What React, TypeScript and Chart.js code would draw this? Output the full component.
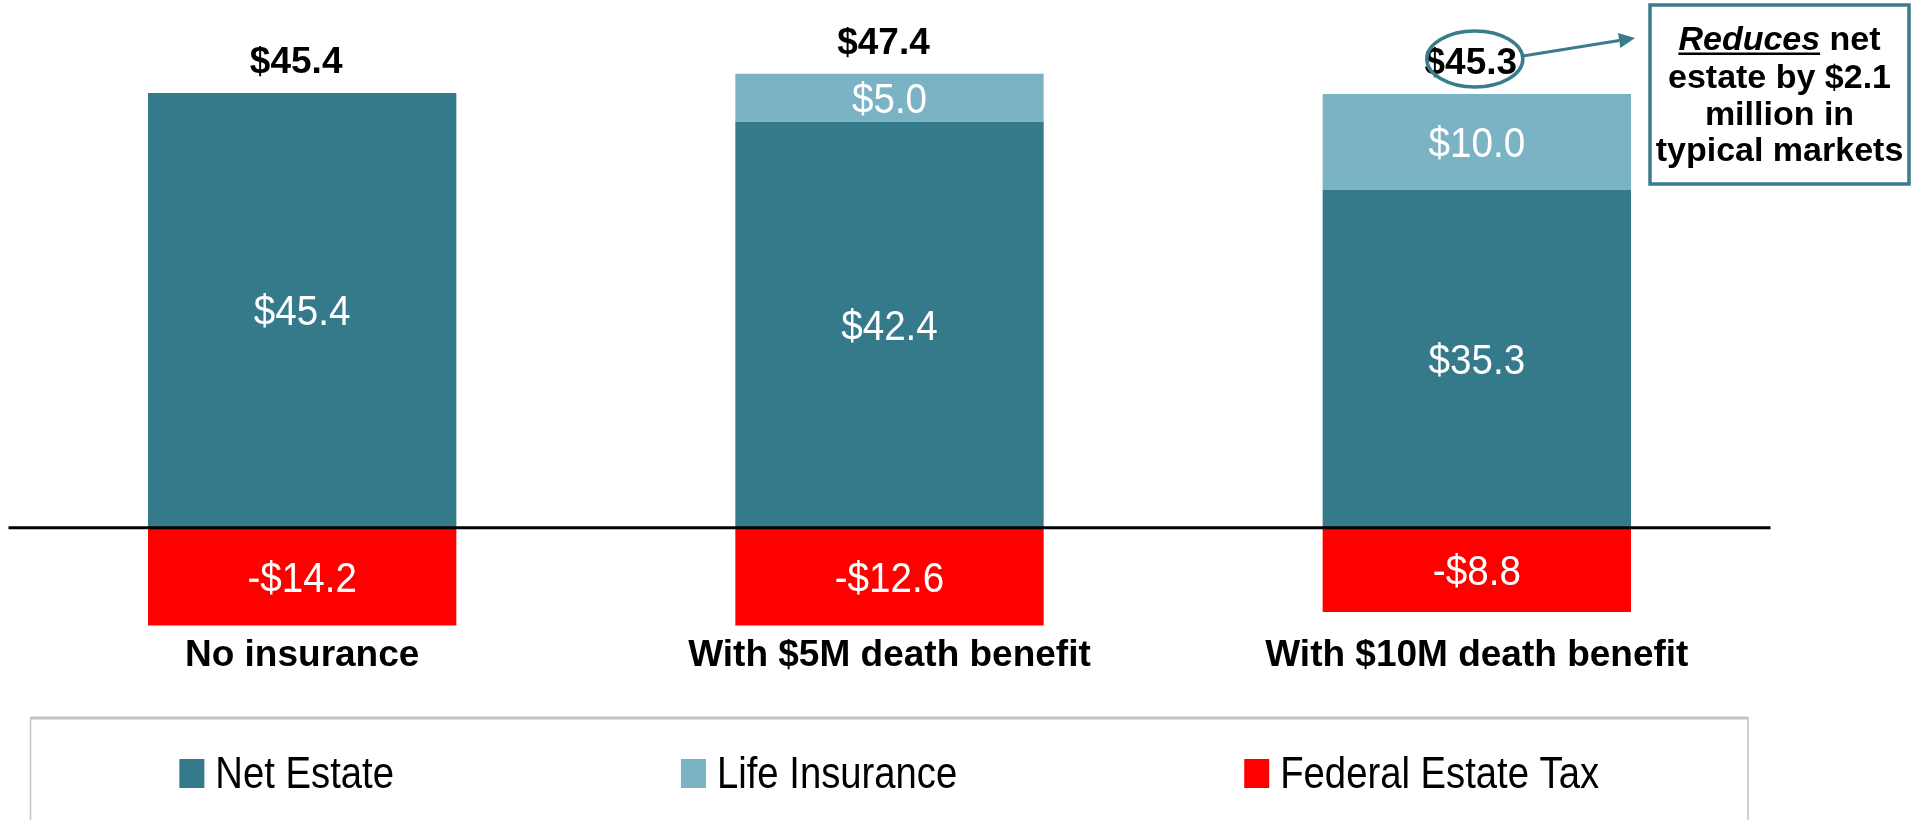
import React, { useEffect, useRef } from "react";
import { Chart, registerables } from "chart.js";

Chart.register(...registerables);

// ---------- data ----------
const categories = ["No insurance", "With $5M death benefit", "With $10M death benefit"];
const seriesLabels = ["Net Estate", "Life Insurance", "Federal Estate Tax"];
const netEstate = [45.4, 42.4, 35.3];
const lifeInsurance: (number | null)[] = [null, 5.0, 10.0];
const federalEstateTax = [-14.2, -12.6, -8.8];
const axisMin = -10.23;
const axisMax = 54.8;
const noteLines = ["net", "estate by $2.1", "million in", "typical markets"];
const noteEmphasis = "Reduces";
const highlightedCategory = 2;

// ---------- styles ----------
const COLORS = ["#357A8B", "#7AB4C4", "#FF0000"];
const ACCENT = "#3A7C8C";
const FONT = '"Liberation Sans", Arial, Helvetica, sans-serif';

function fmt(v: number) {
  return (v < 0 ? "-$" : "$") + Math.abs(v).toFixed(1);
}

function drawText(
  ctx: CanvasRenderingContext2D,
  text: string,
  x: number,
  y: number,
  font: string,
  color: string,
  align: CanvasTextAlign = "center",
  scaleX = 1
) {
  ctx.save();
  ctx.font = font;
  ctx.fillStyle = color;
  ctx.textAlign = align;
  ctx.textBaseline = "alphabetic";
  ctx.translate(x, y);
  ctx.scale(scaleX, 1);
  ctx.fillText(text, 0, 0);
  ctx.restore();
}

const stackTotal = (i: number) => (netEstate[i] || 0) + (lifeInsurance[i] || 0);

const labelsPlugin = {
  id: "valueLabels",
  afterDatasetsDraw(chart: any) {
    const ctx: CanvasRenderingContext2D = chart.ctx;
    const area = chart.chartArea;
    const yScale = chart.scales.y;
    const y0 = yScale.getPixelForValue(0);

    // zero line
    ctx.save();
    ctx.strokeStyle = "#000";
    ctx.lineWidth = 3;
    ctx.beginPath();
    ctx.moveTo(area.left, y0);
    ctx.lineTo(area.right, y0);
    ctx.stroke();
    ctx.restore();

    // values inside bars
    const vSize = 42;
    chart.data.datasets.forEach((ds: any, di: number) => {
      const meta = chart.getDatasetMeta(di);
      meta.data.forEach((bar: any, i: number) => {
        const v = ds.data[i];
        if (v == null || v === 0) return;
        const { x, y, base } = bar.getProps(["x", "y", "base"], true);
        const top = Math.max(Math.min(y, base), area.top);
        const bottom = Math.min(Math.max(y, base), area.bottom);
        const cy = (top + bottom) / 2;
        drawText(ctx, fmt(v), x, cy + 0.358 * vSize, `normal ${vSize}px ${FONT}`, "#FFFFFF", "center", 0.92);
      });
    });

    // totals above bars
    const meta0 = chart.getDatasetMeta(0);
    categories.forEach((_, i) => {
      const t = stackTotal(i);
      const x = meta0.data[i].x;
      const yTop = yScale.getPixelForValue(t);
      drawText(ctx, fmt(t), x - 6, yTop - 20, `bold 37px ${FONT}`, "#000000");
    });
  },
  afterDraw(chart: any) {
    const ctx: CanvasRenderingContext2D = chart.ctx;
    const yScale = chart.scales.y;
    const meta0 = chart.getDatasetMeta(0);

    // ---- annotation: ellipse + arrow + note box ----
    const hx = meta0.data[highlightedCategory].x - 2;
    const hy = yScale.getPixelForValue(stackTotal(highlightedCategory)) - 20 - 15;
    const rx = 48;
    const ry = 28;
    ctx.save();
    ctx.strokeStyle = ACCENT;
    ctx.lineWidth = 3.5;
    ctx.beginPath();
    ctx.ellipse(hx, hy, rx, ry, 0, 0, Math.PI * 2);
    ctx.stroke();

    const box = { left: 1650, top: 5, right: 1909, bottom: 184 };
    const sx = hx + rx;
    const sy = hy - 3;
    const tx = box.left - 15;
    const ty = 38;
    const ang = Math.atan2(ty - sy, tx - sx);
    const headLen = 16;
    const headW = 7.5;
    const bx = tx - headLen * Math.cos(ang);
    const by = ty - headLen * Math.sin(ang);
    ctx.lineWidth = 3;
    ctx.beginPath();
    ctx.moveTo(sx, sy);
    ctx.lineTo(bx, by);
    ctx.stroke();
    ctx.fillStyle = ACCENT;
    ctx.beginPath();
    ctx.moveTo(tx, ty);
    ctx.lineTo(bx - headW * Math.sin(ang), by + headW * Math.cos(ang));
    ctx.lineTo(bx + headW * Math.sin(ang), by - headW * Math.cos(ang));
    ctx.closePath();
    ctx.fill();

    ctx.fillStyle = "#FFFFFF";
    ctx.fillRect(box.left, box.top, box.right - box.left, box.bottom - box.top);
    ctx.lineWidth = 3.5;
    ctx.strokeStyle = ACCENT;
    ctx.strokeRect(box.left, box.top, box.right - box.left, box.bottom - box.top);
    ctx.restore();

    const cx = (box.left + box.right) / 2;
    const nFont = `bold 34px ${FONT}`;
    const iFont = `italic bold 34px ${FONT}`;
    const baselines = [50, 88, 125, 161];
    ctx.save();
    ctx.font = iFont;
    const wEm = ctx.measureText(noteEmphasis).width;
    ctx.font = nFont;
    const wRest = ctx.measureText(" " + noteLines[0]).width;
    ctx.restore();
    const startX = cx - (wEm + wRest) / 2;
    drawText(ctx, noteEmphasis, startX, baselines[0], iFont, "#000", "left");
    drawText(ctx, " " + noteLines[0], startX + wEm, baselines[0], nFont, "#000", "left");
    ctx.save();
    ctx.fillStyle = "#000";
    ctx.fillRect(startX, baselines[0] + 2.5, wEm, 2.5);
    ctx.restore();
    for (let k = 1; k < noteLines.length; k++) {
      drawText(ctx, noteLines[k], cx, baselines[k], nFont, "#000");
    }

    // ---- legend box ----
    const lg = { left: 30.5, top: 718, right: 1748, bottom: 840 };
    ctx.save();
    ctx.strokeStyle = "#C4C4C4";
    ctx.lineWidth = 1.5;
    ctx.beginPath();
    ctx.moveTo(lg.left, lg.bottom);
    ctx.lineTo(lg.left, lg.top);
    ctx.lineTo(lg.right, lg.top);
    ctx.lineTo(lg.right, lg.bottom);
    ctx.stroke();
    ctx.lineWidth = 3;
    ctx.beginPath();
    ctx.moveTo(lg.left, lg.top);
    ctx.lineTo(lg.right, lg.top);
    ctx.stroke();
    ctx.restore();

    const lFontSize = 45;
    const lScale = 0.85;
    const lFont = `normal ${lFontSize}px ${FONT}`;
    const sqW = 25;
    const sqH = 29;
    const gapText = 11;
    const gapItem = 287;
    ctx.save();
    ctx.font = lFont;
    const widths = chart.data.datasets.map((d: any) => ctx.measureText(d.label).width * lScale);
    ctx.restore();
    const total =
      widths.reduce((a: number, w: number) => a + sqW + gapText + w, 0) + gapItem * (widths.length - 1);
    let lx = (lg.left + lg.right) / 2 - total / 2;
    const sqTop = 759;
    const textBase = 788;
    chart.data.datasets.forEach((d: any, i: number) => {
      ctx.save();
      ctx.fillStyle = d.backgroundColor;
      ctx.fillRect(lx, sqTop, sqW, sqH);
      ctx.restore();
      drawText(ctx, d.label, lx + sqW + gapText, textBase, lFont, "#000", "left", lScale);
      lx += sqW + gapText + widths[i] + gapItem;
    });
  },
};

export default function App() {
  const canvasRef = useRef<HTMLCanvasElement | null>(null);

  useEffect(() => {
    const canvas = canvasRef.current;
    if (!canvas) return;
    const chart = new Chart(canvas, {
      type: "bar",
      data: {
        labels: categories,
        datasets: [
          { label: seriesLabels[0], data: netEstate, backgroundColor: COLORS[0], stack: "s" },
          { label: seriesLabels[1], data: lifeInsurance, backgroundColor: COLORS[1], stack: "s" },
          { label: seriesLabels[2], data: federalEstateTax, backgroundColor: COLORS[2], stack: "s" },
        ],
      } as any,
      options: {
        animation: false,
        responsive: false,
        maintainAspectRatio: false,
        devicePixelRatio: 1,
        layout: { padding: { left: 8.5, right: 141.5, top: 3, bottom: 134 } },
        datasets: { bar: { categoryPercentage: 1, barPercentage: 0.525, borderWidth: 0 } },
        plugins: { legend: { display: false }, tooltip: { enabled: false } },
        scales: {
          x: {
            stacked: true,
            grid: { display: false, drawTicks: false },
            border: { display: false },
            ticks: {
              color: "#000",
              font: { family: FONT, size: 37, weight: "bold" },
              padding: 8,
              maxRotation: 0,
              autoSkip: false,
            },
          },
          y: { stacked: true, display: false, min: axisMin, max: axisMax },
        },
      } as any,
      plugins: [labelsPlugin],
    });
    return () => chart.destroy();
  }, []);

  return (
    <div style={{ position: "fixed", left: 0, top: 0, width: 1912, height: 820, background: "#fff" }}>
      <canvas ref={canvasRef} width={1912} height={820} style={{ display: "block", width: 1912, height: 820 }} />
    </div>
  );
}
